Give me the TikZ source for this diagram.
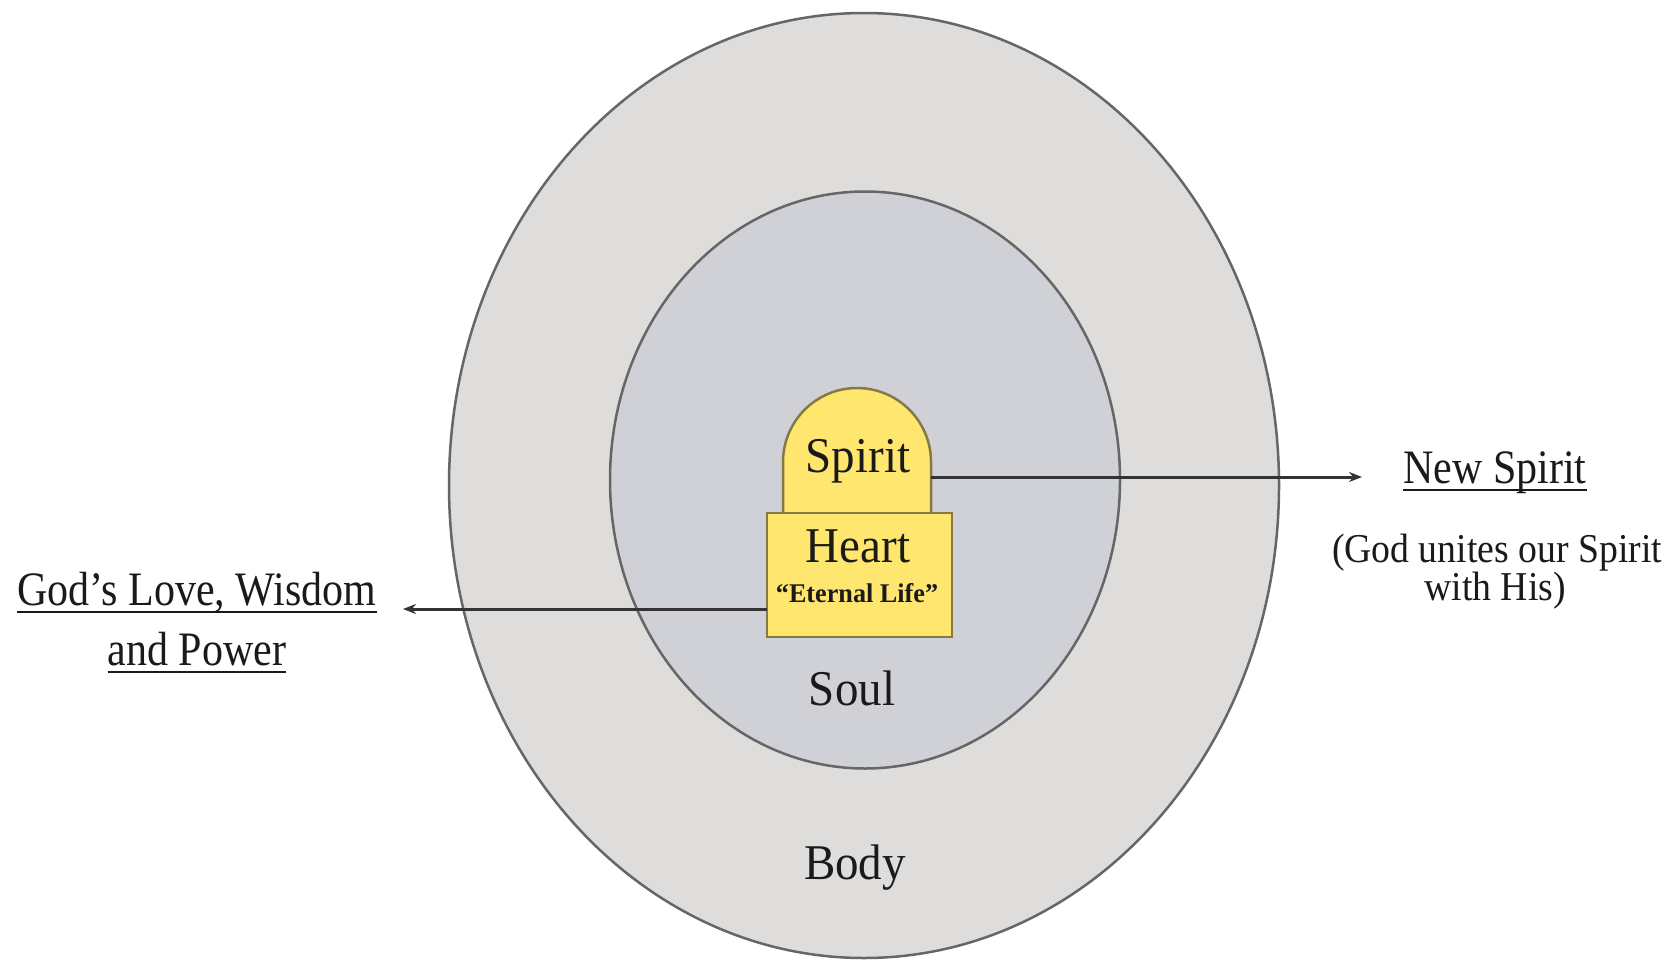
\documentclass[tikz,border=0pt]{standalone}
\usepackage{fontspec}
\setmainfont{Liberation Serif}
\usetikzlibrary{shapes.geometric,arrows.meta}
\definecolor{bodyfill}{HTML}{DFDDDC}
\definecolor{soulfill}{HTML}{D0D1D6}
\definecolor{ringline}{HTML}{666666}
\definecolor{yellowfill}{HTML}{FFE66E}
\definecolor{yellowline}{HTML}{857A45}
\definecolor{ink}{HTML}{1A1A1A}
\definecolor{connline}{HTML}{333333}
\begin{document}
\begin{tikzpicture}[x=1pt,y=-1pt,
  ring/.style={ellipse, draw=ringline, line width=2.5pt, inner sep=0pt, outer sep=0pt},
  dome/.style={rectangle, rounded corners=74pt, draw=yellowline, fill=yellowfill, line width=2.5pt, inner sep=0pt, outer sep=0pt},
  heartbox/.style={rectangle, draw=yellowline, fill=yellowfill, line width=2.5pt, inner sep=0pt, outer sep=0pt},
  lbl/.style={inner sep=0pt, anchor=base, text=ink, font=\fontsize{50}{60}\selectfont, xscale=0.94},
  title/.style={inner sep=0pt, anchor=base, text=ink, font=\fontsize{48}{56}\selectfont, xscale=0.875},
  para/.style={inner sep=0pt, anchor=base, text=ink, font=\fontsize{41}{48}\selectfont, xscale=0.92},
  small/.style={inner sep=0pt, anchor=base, text=ink, font=\bfseries\fontsize{27}{32}\selectfont, xscale=0.97},
  conn/.style={draw=connline, line width=3pt, -{Stealth[length=13pt,width=10pt]}},
  uline/.style={draw=ink, line width=2pt}
]
\useasboundingbox[fill=white] (0,0) rectangle (1669,963);
% rings
\node[ring, fill=bodyfill, minimum width=830pt, minimum height=945pt] (body) at (864,485.5) {};
\node[ring, fill=soulfill, minimum width=510pt, minimum height=577pt] (soul) at (865,480) {};
% spirit dome and heart box
\node[dome, minimum width=148pt, minimum height=212pt] (spirit) at (857,494) {};
\node[heartbox, minimum width=185pt, minimum height=124pt] (heart) at (859.5,575) {};
% labels inside
\node[lbl] (spirittxt) at (858,472) {Spirit};
\node[lbl] (hearttxt) at (858,562) {Heart};
\node[small] (eternal) at (857,602) {“Eternal Life”};
\node[lbl] (soultxt) at (852,705) {Soul};
\node[lbl] (bodytxt) at (855,879) {Body};
% right labels
\node[title] (newspirit) at (1495,483) {New Spirit};
\draw[uline] ([yshift=-7pt]newspirit.base west) -- ([yshift=-7pt]newspirit.base east);
\node[para] (unite1) at (1497,562) {(God unites our Spirit};
\node[para] (unite2) at (1495,600) {with His)};
% left labels
\node[title] (gods) at (197,605) {God’s Love, Wisdom};
\draw[uline] ([yshift=-7pt]gods.base west) -- ([yshift=-7pt]gods.base east);
\node[title] (power) at (197,665) {and Power};
\draw[uline] ([yshift=-7pt]power.base west) -- ([yshift=-7pt]power.base east);
% connectors
\coordinate (ntip) at (1362,476);
\coordinate (ltip) at (403,609);
\draw[conn] ([yshift=17pt]spirit.east) -- ([yshift=17pt]spirit.east -| ntip);
\draw[conn] ([yshift=-34pt]heart.west) -- (ltip);
\end{tikzpicture}
\end{document}
